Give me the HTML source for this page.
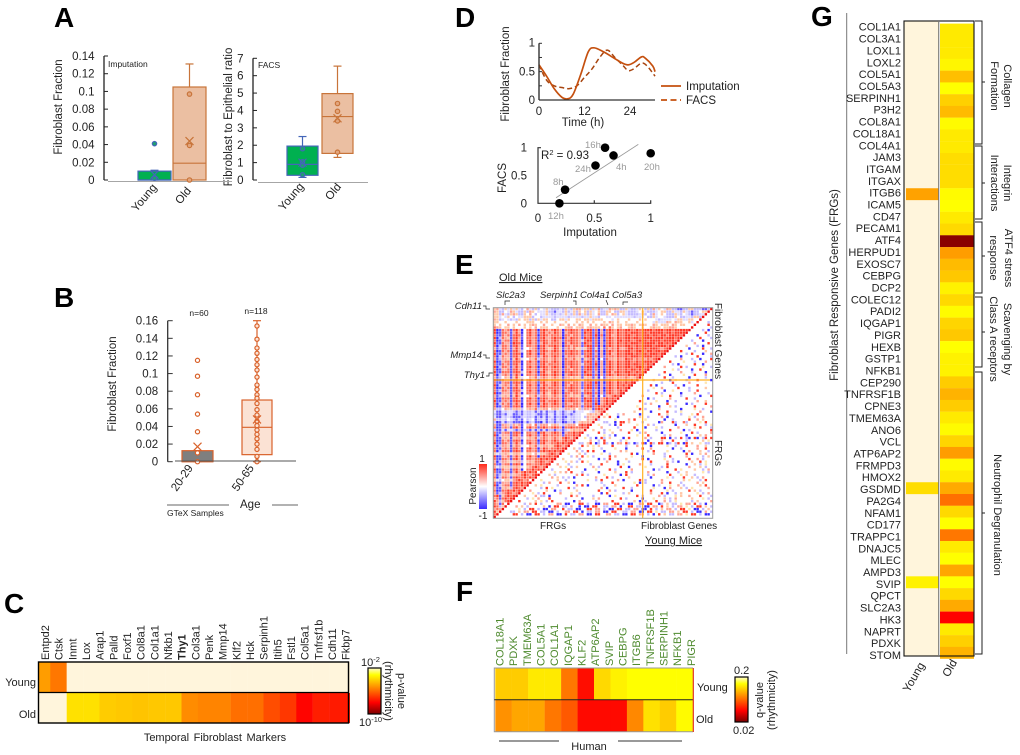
<!DOCTYPE html>
<html lang="en">
<head>
<meta charset="utf-8">
<title>Fibroblast rhythmicity figure</title>
<style>
html,body{margin:0;padding:0;background:#fff;}
svg{display:block;font-family:"Liberation Sans",sans-serif;fill:#222;}
.l{font-weight:bold;font-size:28px;fill:#000;}
.t{font-size:11.5px;}
.s{font-size:11px;}
.x{font-size:10px;}
.i{font-size:9.5px;font-style:italic;}
.g{font-size:9.5px;fill:#999;}
.m{font-size:8.5px;}
.e{text-anchor:end;}
.c{text-anchor:middle;}
</style>
</head>
<body>
<svg id="fig" xmlns="http://www.w3.org/2000/svg" width="1020" height="755" viewBox="0 0 1020 755">
<defs>
<linearGradient id="heatGrad" x1="0" y1="0" x2="0" y2="1">
<stop offset="0" stop-color="#fffbd0"/><stop offset=".15" stop-color="#ffff00"/><stop offset=".75" stop-color="#ff0000"/><stop offset="1" stop-color="#7a0000"/>
</linearGradient>
<linearGradient id="pearsonGrad" x1="0" y1="0" x2="0" y2="1">
<stop offset="0" stop-color="#ff2a1a"/><stop offset=".5" stop-color="#ffffff"/><stop offset="1" stop-color="#3a2bff"/>
</linearGradient>
<clipPath id="clipC"><rect x="38.5" y="661" width="311.5" height="62"/></clipPath>
<clipPath id="clipF"><rect x="495" y="668" width="198.5" height="64"/></clipPath>
</defs>

<text class="l" x="54" y="27">A</text>
<text class="l" x="54" y="307">B</text>
<text class="l" x="4" y="613">C</text>
<text class="l" x="455" y="27">D</text>
<text class="l" x="455" y="274">E</text>
<text class="l" x="456" y="601">F</text>
<text class="l" x="811" y="26">G</text>

<g id="panelA">
<text class="t c" transform="translate(62,107) rotate(-90)">Fibroblast Fraction</text>
<text class="m" x="108" y="67">Imputation</text>
<text class="t c" transform="translate(147,200) rotate(-50)">Young</text>
<text class="t c" transform="translate(186,198) rotate(-50)">Old</text>
<text class="t c" transform="translate(232,117) rotate(-90)">Fibroblast to Epithelial ratio</text>
<text class="m" x="258" y="68">FACS</text>
<text class="t c" transform="translate(294,199) rotate(-50)">Young</text>
<text class="t c" transform="translate(336,194) rotate(-50)">Old</text>
</g>

<g id="panelB">
<text class="t c" transform="translate(116,384) rotate(-90)">Fibroblast Fraction</text>
<text class="m c" x="199" y="316">n=60</text>
<text class="m c" x="256" y="314">n=118</text>
<text class="t c" transform="translate(185,480) rotate(-55)">20-29</text>
<text class="t c" transform="translate(246,480) rotate(-55)">50-65</text>
<line x1="167" y1="505" x2="229" y2="505" stroke="#666"/>
<line x1="272" y1="505" x2="298" y2="505" stroke="#666"/>
<text class="t" x="240" y="508">Age</text>
<text class="m" x="167" y="516">GTeX Samples</text>
</g>

<g id="panelC">
<text class="s e" x="36" y="686">Young</text>
<text class="s e" x="36" y="718">Old</text>
<text class="s c" x="215" y="741" word-spacing="1.5">Temporal Fibroblast Markers</text>
<rect x="368" y="668" width="13" height="46" fill="url(#heatGrad)" stroke="#000" stroke-width="1.2"/>
<text class="s" x="361" y="666">10<tspan font-size="7.5" dy="-4">-2</tspan></text>
<text class="s" x="359" y="726">10<tspan font-size="7.5" dy="-4">-10</tspan></text>
<text class="s c" transform="translate(398,691) rotate(90)">p-value</text>
<text class="s c" transform="translate(385,691) rotate(90)">(rhythmicity)</text>
</g>

<g id="panelD">
<text class="t c" transform="translate(509,74) rotate(-90)">Fibroblast Fraction</text>
<text class="t c" x="583" y="126">Time (h)</text>
<line x1="661" y1="86" x2="681" y2="86" stroke="#c5500f" stroke-width="1.8"/>
<line x1="661" y1="100" x2="681" y2="100" stroke="#c5500f" stroke-width="1.8" stroke-dasharray="6 3.5"/>
<text class="t" x="686" y="90">Imputation</text>
<text class="t" x="686" y="104">FACS</text>
<text class="t c" transform="translate(506,178) rotate(-90)">FACS</text>
<text class="t c" x="590" y="236">Imputation</text>
<text class="t" x="541" y="159">R<tspan font-size="7.5" dy="-4">2</tspan><tspan dy="4"> = 0.93</tspan></text>
<text class="g" x="585" y="148">16h</text>
<text class="g" x="616" y="170">4h</text>
<text class="g" x="644" y="170">20h</text>
<text class="g" x="575" y="172">24h</text>
<text class="g" x="553" y="185">8h</text>
<text class="g" x="548" y="219">12h</text>
</g>

<g id="panelE">
<text class="s" x="499" y="281" text-decoration="underline">Old Mice</text>
<text class="s" x="645" y="544" text-decoration="underline">Young Mice</text>
<text class="i" x="496" y="298">Slc2a3</text>
<text class="i" x="540" y="298">Serpinh1</text>
<text class="i" x="580" y="298">Col4a1</text>
<text class="i" x="612" y="298">Col5a3</text>
<text class="i e" x="482" y="309">Cdh11</text>
<text class="i e" x="482" y="358">Mmp14</text>
<text class="i e" x="485" y="378">Thy1</text>
<path d="M505 305v-4h5M573 301h3v4M606 300l2 5M623 305v-3h5M483 306h3v3h4M483 355h3v3h4M486 376h3v-3h4" fill="none" stroke="#222" stroke-width=".7"/>
<text class="x" x="540" y="529">FRGs</text>
<text class="x" x="641" y="529">Fibroblast Genes</text>
<text class="x c" transform="translate(715,341) rotate(90)">Fibroblast Genes</text>
<text class="x c" transform="translate(715,453) rotate(90)">FRGs</text>
<rect x="479" y="464" width="8" height="45" fill="url(#pearsonGrad)"/>
<text class="x c" x="482" y="462">1</text>
<text class="x c" x="483" y="519">-1</text>
<text class="x c" transform="translate(476,486) rotate(-90)">Pearson</text>
</g>

<g id="panelF">
<text class="s" x="697" y="691">Young</text>
<text class="s" x="696" y="723">Old</text>
<text class="s c" x="589" y="750">Human</text>
<line x1="499" y1="741" x2="559" y2="741" stroke="#333"/>
<line x1="618" y1="741" x2="682" y2="741" stroke="#333"/>
<rect x="735" y="677" width="13" height="45" fill="url(#heatGrad)" stroke="#000" stroke-width="1.2"/>
<text class="s" x="734" y="674">0.2</text>
<text class="s" x="733" y="734">0.02</text>
<text class="s c" transform="translate(763,700) rotate(-90)">q-value</text>
<text class="s c" transform="translate(775,700) rotate(-90)">(rhythmicity)</text>
</g>

<g id="panelG">
<line x1="846.7" y1="13" x2="846.7" y2="654" stroke="#777" stroke-width="1"/>
<text class="t c" transform="translate(838,285) rotate(-90)">Fibroblast Responsive Genes (FRGs)</text>
<text class="t c" transform="translate(917,679) rotate(-60)">Young</text>
<text class="t c" transform="translate(953,670) rotate(-60)">Old</text>
<path d="M975 21h7v123h-7M982 82h3M975 146h7v73h-7M982 183h3M975 222h7v71h-7M982 256h3M975 297h7v70h-7M982 332h3M975 372h7v282h-7M982 513h3" fill="none" stroke="#222" stroke-width="1"/>
<text class="s c" transform="translate(1004,86) rotate(90)">Collagen</text>
<text class="s c" transform="translate(991,86) rotate(90)">Formation</text>
<text class="s c" transform="translate(1004,183) rotate(90)">Integrin</text>
<text class="s c" transform="translate(991,183) rotate(90)">Interactions</text>
<text class="s c" transform="translate(1005,258) rotate(90)">ATF4 stress</text>
<text class="s c" transform="translate(990,258) rotate(90)">response</text>
<text class="s c" transform="translate(1004,339) rotate(90)">Scavenging by</text>
<text class="s c" transform="translate(990,339) rotate(90)">Class A receptors</text>
<text class="s c" transform="translate(994,515) rotate(90)">Neutrophil Degranulation</text>
</g>
</svg>

<script>
/* ---------- panel A ---------- */
const aFractionTicks = ['0','0.02','0.04','0.06','0.08','0.1','0.12','0.14'];
const aFractionTickValues = [0,0.02,0.04,0.06,0.08,0.1,0.12,0.14];
const aFacsTicks = ['0','1','2','3','4','5','6','7'];
const aFacsTickValues = [0,1,2,3,4,5,6,7];
const aImputationYoung = {lo:0, q1:0, med:0, q3:0.01, hi:0.011, mean:0.006, pts:[0.041,0.002]};
const aImputationOld = {lo:0, q1:0, med:0.019, q3:0.105, hi:0.131, mean:0.044, pts:[0.097,0.039,0]};
const aFacsYoung = {lo:0.15, q1:0.27, med:0.9, q3:1.95, hi:2.5, mean:1.0, pts:[1.8,0.85,0.3,1.05]};
const aFacsOld = {lo:1.3, q1:1.53, med:3.65, q3:4.97, hi:6.55, mean:3.55, pts:[4.4,3.95,3.4,1.6]};
/* ---------- panel B ---------- */
const bTicks = ['0','0.02','0.04','0.06','0.08','0.1','0.12','0.14','0.16'];
const bTickValues = [0,0.02,0.04,0.06,0.08,0.1,0.12,0.14,0.16];
const bYoung = {lo:0, q1:0, med:0, q3:0.0125, hi:0.0125, mean:0.017, pts:[0.115,0.097,0.076,0.054,0.034,0.01,0]};
const bOld = {lo:0, q1:0.008, med:0.039, q3:0.07, hi:0.16, mean:0.048, pts:[0.154,0.139,0.129,0.123,0.116,0.11,0.104,0.096,0.087,0.082,0.076,0.072,0.066,0.059,0.053,0.046,0.041,0.036,0.031,0.026,0.02,0.014,0.006,0]};
/* ---------- panel C ---------- */
const cGenes = ['Entpd2','Ctsk','Inmt','Lox','Arap1','Palld','Foxf1','Col8a1','Col1a1','Nfkb1','Thy1','Col3a1','Penk','Mmp14','Klf2','Hck','Serpinh1','Itih5','Fstl1','Col5a1','Tnfrsf1b','Cdh11','Fkbp7'];
const cYoung = [.38,.47,null,null,null,null,null,null,null,null,null,null,null,null,null,null,null,null,null,null];
const cOld = [null,null,.22,.22,.27,.28,.29,.28,.28,.42,.44,.44,.49,.49,.57,.62,.74,.68,.69,.69];
/* ---------- panel D ---------- */
const dTimes = [0,2,4,6,7.5,9,11,13,14.5,17,20,22,23.5,25,27,28,30,30.6];
const dImputation = [.62,.42,.2,.05,.02,.1,.45,.85,.92,.85,.73,.65,.62,.66,.76,.74,.6,.5];
const dFacsTimes = [0,2,4,6,8,10,12,14,16,18,20,22,23.5,25,27,28.5,30.6];
const dFacs = [.62,.35,.25,.22,.2,.25,.4,.55,.75,.88,.75,.62,.52,.55,.65,.6,.42];
const dScatterX = [.595,.67,1,.51,.24,.19];
const dScatterY = [1,.86,.9,.68,.245,0];
const dTrendX = [.16,.89];
const dTrendY = [.1,1.06];
/* ---------- panel E: levels 0 (r=-1) to 8 (r=+1), 9 = weak yellow, strings by row ---------- */
const eOldRows = [
"5632535353246325243532223253256635525362336565225322354252635436522112255222112",
"6522436532252654333522133252352545253452255422553222345322234552253325321224553",
"5526325652254642433532232353252635253462254652453222235242634542225324321223325",
"5534354243355524423333233332333323353324433433333332333422534432225422332552",
"6523432325455252535542245535445545535555444345444544454544432333343553355",
"5544544454445554454544544454445454545444546545445444544444353336546554453",
"5454464546454565446445446546454654464546554645545565456544654555465455",
"7654554544454546455544454456645564565554747545644565445445655455665",
"8017671786047867078767876077877617881706078768778877878888788878878888888",
"8017761686047867178676876067877618781706178768778788878878888878878888",
"7117671787147867078767776077677617781807078668778877878887887887888878",
"8027651786147767178667877076877618781706178768778878878888788878887878",
"7016771786047867078767876177877627881706078768878877888878888788887",
"8117661887047867168767776076877618771706178768778788878888878878788",
"7027761786147767078677876077677617881706078768778877878888788887878",
"6127761686144667078656875167675525781505176768667887878878887678787",
"7017671786247867178767876077877617881706078768778877888788788787",
"8116761787047867078667776177877617781606078668778887878878887878",
"7027661786047767168767876067776627881706177768778788878888787888",
"6126651586344657267656765176675515671504176657668776767676787678",
"8016771787047867078767876077877617881706078768778877878888787",
"7117671786047767178677776077877627781806078768778878878787888",
"8027761686147867078767876076877617881706178768778877888787878",
"7016671786047767168767776177677617881706078768778788787878",
"8117771787247867078657876077877618771606078678778877878787",
"7026761686047767178767876067877617881706178768777878787878",
"6124651585344657267656765166565515661504166656667656787678",
"8017661786047867078767776077877627881706078768778787878",
"7116771787047767178667876077677617781806078768778787878",
"8026761686147867068767876076877617881706178768787878",
"7017671786047767178677776177877617881706078768778787",
"7127761787247867078767876067877627771606078767878",
"8016661686047767168657876077677617881706178767878",
"6125651586344657267656765176565515671504166787678",
"7017771786047867078767776077877618781706787878",
"8116761787147767178677876077877617881706787878",
"7027671686047867068767876176677627771806787878",
"7016771787047767178767776077877617881787878",
"6224652565245657256645653266564526651787678",
"3113233212132231213122132123213334432567656",
"2112133112132232112133132122123344565656",
"3113232111232231213123122113223342656565",
"6223243212142341223132132123223344656565",
"2013122111031231103122122012213565656",
"6116652656145647266645653256664787878",
"7016761786047867178767876077877787878",
"2113133212132131213122122123565656",
"7116771787047767078667876067787878",
"8026661786147867168767776177787878",
"6115651566245657267656765787678",
"7017671787047767078767876787878",
"8117761686147867178667787878",
"6026651576344657256655787678",
"7116761786047867068767787878",
"7027771787147767178787878",
"5325653565345546355678767",
"8016671686047867078787878",
"7117761786147767787878",
"6026652566245657787678",
"7116771787047767787878",
"6325552565345678767",
"8017661786047787878",
"7116771686787878",
"6125652566787678",
"7027761787787878",
"5324553678767",
"7116661787878",
"8026771787878",
"6115652787678",
"7017787878",
"6126787678",
"7815787878",
"6717878",
"8625787",
"7617",
"8725",
"676",
"857",
"78",
""
];
/* right-aligned to the last column; '.' is a blank (non-significant) cell */
const eYoungRows = [
"","","","","","2.","8.","..2","2.0.","..8..",
"0...2.","..8...2","2...0...","..6....8.","5...2.0...","..0....8..2","8....2...5..","...2.8...0..6","2.0.....8....2","...6...2..0...8",
"8....9...2...6..","..2.0.....8..0...","6.....8.2.....9..2","...9.2....0..8....",".8.....6...2....0..","2...0....9...8...6..","...8..2.....0.....2..","5.....0.9...2...8....0","...2...8.....6.....9..","8.0......2..0....8.....",
"..9..6.....8...2.....5..","2.....0..9.....2..8.....","....8.2......0....6....2.","6......9..8...2......0...8","..0.2.....6.....8..2......","8.....9...0..2.......6..5..","...2.6.....8......0.2....8..","9.......0...5.2......8.....6","..8.2....6.......0....9..2...","5.....0.....8..2.9......6...0",
"...9...2.6.....0......8..5....2...9.8.....",
"..5.8..0.......5..2....6.0.......9.2..6...",
"2.....9....6.8...9......0..2.....8..6.5...",
"..22..0.88.5....2.....06...82..72....9.8..",
"9...2.0.8.....9...6.2.......0...5..8...2.9",
"..6.....2.....8...0...9.2.....6.....5.8...2",
"5...2.9...6...9.0......2....8....0.2.......8",
"...8.2..5.....8...2.6.....0......9...8.2....6",
"2.....9.2.0.......9...8.....2.6.....0....5.6..",
"9.2.0.82.5....0.8.....6.2...88.0.2.8.20.80.28.8",
"...6..2.8.....2.9.......0....6...8....2.....5.9.",
"22.58.02.82.0.66.82.02.80.82.88.02.28.08.5..9.22.",
"..8.5.9.5....8....2...6....0.....9..2...8...6..5..",
"5.2....9..2....9...0.....8..6.......0..2.....6..8..",
"..6.2.8.8...0.....6.5.......2.8....9.....0.6...5..2.",
"9...5.2.....9..2.......8.0.....6...2.......8.0..5.6..",
"..2.6.8.9.2.....8.6.....9...0.......2.8.....6.....2.5.",
"5.....2......0.2.8.....5.....8.0.....9..2.....8..6.2...",
"..9.5.2.8.9......6...0...2.......8.....6.2.0....5..8.9..",
"6...2.......2...8.....0.9.....6...2.....8......0..5.2.9..",
"..5.9.2.5.....6.2.......8..0.....9.....2.8.......6...5.2..",
"2.....8.....0...9....8.2.....6.......0.2.....8.9....5..2.6.",
"..9.5.6.8...2.....0.....5...8.2.....6......0...2..5.....9.2.",
"5.2.......6.8.2.....9.....0.8.......2.6.....8...9.5..2......",
"...6.5.2.2.0.......6...8.2.....5.......0.....9.2...8..5.2.6...",
"9.....5..2.......9..2.8.....6.0.....8.2.....6.......5.9...2.8..",
"..2.6...8..5.0.........2...8.......9.0.2.....6..8...2.....6.5...",
"5.9.....2......6.8.0.....2...5.......8.....0.2...9..6.2.....5.8..",
"...2.8.9.....8.2.........6.0.....8..2.......9...0.6...5.2.9.....6.",
"6.....5..0.2.....5.......8...6.2.....0......8.....9.2.....8.5.2....",
"..9.2.8.....6...9..2.......0.8.....2.5.......6...8.0..2.5.....9.2.6.",
"5...6.22.0.......8.6.....2.....0.9.......8.2.....6.2...9.5..6...8...2",
"..2.9.6...8.....2.....0...5.6.......8.2.....0...9...5.2.6.....5...9.2.",
"8.....5.9.2.8.......0.6.....2.....8.......5.0.2...8..6.2.9.....2.5....6",
"..2.6.8.2.....66.00...88.2..00.66..88.2.00..66.88..02.5.22.9.66.8.2.0..",
"6.5.2.....5.0.88.22.6..0.00.88..22.66.0..88.22.00.66.8.5.2.66.9.2.88.5.2",
"..9.2.88.2.00.66..8.22.00..88.66.2.00.88.22.66.00.8.2.5.66.2.88.9.00.2.5.",
"22.5.66.88.22.00.2..66.88.0.22.66.00.88..22.66.00.88.9.22.66.5.88.2.00.6.2",
"..88.2.00.88.2.66.00.8.22.66.00.88..66.22.00.88.66.2.0.8.5.22.66.9.88.2.00."
];
/* ---------- panel F ---------- */
const fGenes = ['COL18A1','PDXK','TMEM63A','COL5A1','COL1A1','IQGAP1','KLF2','ATP6AP2','SVIP','CEBPG','ITGB6','TNFRSF1B','SERPINH1','NFKB1','PIGR'];
const fYoung = [.27,.27,.2,.2,.47,.72,.24,.18,.15,.15,.15,.15];
const fOld = [.41,.36,.36,.47,.54,.73,.73,.73,.43,.22,.27,.16];
/* ---------- panel G ---------- */
const gGenes = ['COL1A1','COL3A1','LOXL1','LOXL2','COL5A1','COL5A3','SERPINH1','P3H2','COL8A1','COL18A1','COL4A1','JAM3','ITGAM','ITGAX','ITGB6','ICAM5','CD47','PECAM1','ATF4','HERPUD1','EXOSC7','CEBPG','DCP2','COLEC12','PADI2','IQGAP1','PIGR','HEXB','GSTP1','NFKB1','CEP290','TNFRSF1B','CPNE3','TMEM63A','ANO6','VCL','ATP6AP2','FRMPD3','HMOX2','GSDMD','PA2G4','NFAM1','CD177','TRAPPC1','DNAJC5','MLEC','AMPD3','SVIP','QPCT','SLC2A3','HK3','NAPRT','PDXK','STOM'];
const gOld = [.2,.2,.2,.17,.3,.15,.26,.31,.16,.2,.2,.23,.23,.23,.16,.15,.2,.24,.97,.38,.31,.28,.18,.24,.16,.25,.28,.15,.18,.18,.27,.33,.27,.2,.16,.25,.38,.16,.2,.35,.49,.24,.15,.47,.2,.15,.36,.15,.24,.35,.75,.2,.26,.33];
const gYoung = {ITGB6:.37, GSDMD:.23, SVIP:.18};

/* ---------- helpers ---------- */
const NS = 'http://www.w3.org/2000/svg';
function add(parentId, tag, attrs, name, text) {
  const el = document.createElementNS(NS, tag);
  for (const k in attrs) el.setAttribute(k, attrs[k]);
  
  
  if (text !== undefined) el.textContent = text;
  (typeof parentId === 'string' ? document.getElementById(parentId) : parentId).appendChild(el);
  return el;
}
function heatColor(t) {
  if (t === null || t === undefined) return '#fff5dc';
  if (t <= .15) { const b = Math.round(208 * (1 - t / .15)); return 'rgb(255,255,' + b + ')'; }
  if (t <= .75) { const g = Math.round(255 * (.75 - t) / .6); return 'rgb(255,' + g + ',0)'; }
  const r = Math.round(255 - 133 * (t - .75) / .25); return 'rgb(' + r + ',0,0)';
}
function linScale(d0, d1, r0, r1) { return v => r0 + (v - d0) * (r1 - r0) / (d1 - d0); }
function yAxis(group, x, scale, vals, labels, prefix, tickLen, color) {
  add(group, 'line', {x1:x, x2:x, y1:scale(vals[vals.length-1]), y2:scale(vals[0]), stroke:color, 'stroke-width':1.3}, prefix + '-y-axis');
  vals.forEach((v, i) => {
    add(group, 'line', {x1:x, x2:x + tickLen, y1:scale(v), y2:scale(v), stroke:color, 'stroke-width':1}, prefix + '-y-tick');
    add(group, 'text', {x:x - 9.5, y:scale(v) + 4, class:'t e'}, prefix + '-y-tick-label', labels[i]);
  });
}
function box(group, y, x0, w, s, o) {
  const cx = x0 + w / 2, p = o.prefix;
  add(group, 'line', {x1:cx, x2:cx, y1:y(s.hi), y2:y(s.lo), stroke:o.stroke, 'stroke-width':1.2}, p + '-whisker');
  add(group, 'line', {x1:cx - 4, x2:cx + 4, y1:y(s.hi), y2:y(s.hi), stroke:o.stroke, 'stroke-width':1.2}, p + '-whisker-cap');
  add(group, 'line', {x1:cx - 4, x2:cx + 4, y1:y(s.lo), y2:y(s.lo), stroke:o.stroke, 'stroke-width':1.2}, p + '-whisker-cap');
  add(group, 'rect', {x:x0, y:y(s.q3), width:w, height:Math.max(y(s.q1) - y(s.q3), .5), fill:o.fill, stroke:o.stroke, 'stroke-width':1.2}, p + '-box');
  add(group, 'line', {x1:x0, x2:x0 + w, y1:y(s.med), y2:y(s.med), stroke:o.stroke, 'stroke-width':1.2}, p + '-median');
  s.pts.forEach(v => add(group, 'circle', {cx:cx, cy:y(v), r:o.r, fill:o.ptFill, stroke:o.stroke, 'stroke-width':1.2}, p + '-point'));
  const m = y(s.mean);
  add(group, 'path', {d:'M' + (cx-4) + ' ' + (m-4) + 'L' + (cx+4) + ' ' + (m+4) + 'M' + (cx+4) + ' ' + (m-4) + 'L' + (cx-4) + ' ' + (m+4), stroke:o.stroke, 'stroke-width':1.2, fill:'none'}, p + '-mean');
}

/* ---------- draw A ---------- */
const yA1 = linScale(0, .14, 180, 56);
yAxis('panelA', 104, yA1, aFractionTickValues, aFractionTicks, 'a-imputation', 4, '#222');
add('panelA', 'line', {x1:108, x2:232, y1:181.5, y2:181.5, stroke:'#a6a6a6', 'stroke-width':1}, 'a-imputation-baseline');
box('panelA', yA1, 138, 33, aImputationYoung, {prefix:'a-imputation-young', fill:'#00b050', stroke:'#4466b8', ptFill:'#1ea070', r:2.2});
box('panelA', yA1, 173, 33, aImputationOld, {prefix:'a-imputation-old', fill:'#ebbfa2', stroke:'#c8743a', ptFill:'#e3a57c', r:2.2});
const yA2 = linScale(0, 7, 180, 58.3);
yAxis('panelA', 253, yA2, aFacsTickValues, aFacsTicks, 'a-facs', 4, '#222');
add('panelA', 'line', {x1:258, x2:368, y1:182.5, y2:182.5, stroke:'#a6a6a6', 'stroke-width':1}, 'a-facs-baseline');
box('panelA', yA2, 287, 31, aFacsYoung, {prefix:'a-facs-young', fill:'#00b050', stroke:'#4466b8', ptFill:'#1ea070', r:2.2});
box('panelA', yA2, 322, 31, aFacsOld, {prefix:'a-facs-old', fill:'#ebbfa2', stroke:'#c8743a', ptFill:'#e3a57c', r:2.2});

/* ---------- draw B ---------- */
const yB = linScale(0, .16, 461.7, 320.7);
yAxis('panelB', 167.7, yB, bTickValues, bTicks, 'b', 5, '#333');
box('panelB', yB, 182, 31, bYoung, {prefix:'b-young', fill:'#7f7f7f', stroke:'#d9622b', ptFill:'#fff', r:2.1});
box('panelB', yB, 242, 30, bOld, {prefix:'b-old', fill:'#fbe2d4', stroke:'#d9622b', ptFill:'#fbe2d4', r:2.1});
add('panelB', 'line', {x1:175, x2:296, y1:461, y2:461, stroke:'#555', 'stroke-width':1}, 'b-baseline');

/* ---------- draw C ---------- */
const cClip = add('panelC', 'g', {'clip-path':'url(#clipC)'}, 'c-heatmap');
const xC = i => 33.9 + 16.4 * i;
cYoung.forEach((v, i) => add(cClip, 'rect', {x:xC(i), y:662, width:16.6, height:31, fill:heatColor(v)}, 'c-cell-young'));
cOld.forEach((v, i) => add(cClip, 'rect', {x:xC(i), y:693, width:16.6, height:30, fill:heatColor(v)}, 'c-cell-old'));
add('panelC', 'rect', {x:38.5, y:662, width:310, height:61, fill:'none', stroke:'#000', 'stroke-width':1.4}, 'c-frame');
add('panelC', 'line', {x1:38.5, x2:348.5, y1:692.5, y2:692.5, stroke:'#000', 'stroke-width':1.2}, 'c-row-divider');
cGenes.forEach((g, i) => {
  const x = 49 + i * 13.67;
  const t = add('panelC', 'text', {transform:'translate(' + x + ',660) rotate(-90)', class:'s'}, 'c-gene-label', g);
  if (g === 'Thy1') t.setAttribute('font-weight', 'bold');
});

/* ---------- draw D ---------- */
function smooth(pts) {
  let d = 'M' + pts[0][0] + ' ' + pts[0][1];
  for (let i = 0; i < pts.length - 1; i++) {
    const p0 = pts[Math.max(i-1,0)], p1 = pts[i], p2 = pts[i+1], p3 = pts[Math.min(i+2,pts.length-1)];
    d += 'C' + (p1[0]+(p2[0]-p0[0])/6) + ' ' + (p1[1]+(p2[1]-p0[1])/6) + ' ' + (p2[0]-(p3[0]-p1[0])/6) + ' ' + (p2[1]-(p3[1]-p1[1])/6) + ' ' + p2[0] + ' ' + p2[1];
  }
  return d;
}
const xD = linScale(0, 24, 539, 630), yD = linScale(0, 1, 100, 43.3);
add('panelD', 'path', {d:smooth(dFacsTimes.map((t,i)=>[xD(t),yD(dFacs[i])])), fill:'none', stroke:'#a8450f', 'stroke-width':1.5, 'stroke-dasharray':'5 3'}, 'd-facs-line');
add('panelD', 'path', {d:smooth(dTimes.map((t,i)=>[xD(t),yD(dImputation[i])])), fill:'none', stroke:'#c5500f', 'stroke-width':1.7}, 'd-imputation-line');
add('panelD', 'line', {x1:539, x2:539, y1:yD(1), y2:yD(0), stroke:'#333', 'stroke-width':1.4}, 'd-top-y-axis');
add('panelD', 'line', {x1:539, x2:655, y1:yD(0), y2:yD(0), stroke:'#333', 'stroke-width':1.2}, 'd-top-x-axis');
[0,.25,.5,.75,1].forEach(v => add('panelD', 'line', {x1:539, x2:542, y1:yD(v), y2:yD(v), stroke:'#333'}, 'd-top-y-tick'));
[[1,'1'],[.5,'0.5'],[0,'0']].forEach(a => add('panelD', 'text', {x:535, y:yD(a[0]) + (a[0]===1?3:4), class:'t e'}, 'd-top-y-label', a[1]));
[0,12,24].forEach(v => add('panelD', 'text', {x:xD(v), y:115, class:'t c'}, 'd-top-x-label', String(v)));
const xS = linScale(0, 1, 538, 650.7), yS = linScale(0, 1, 203.3, 147.7);
add('panelD', 'line', {x1:xS(dTrendX[0]), x2:xS(dTrendX[1]), y1:yS(dTrendY[0]), y2:yS(dTrendY[1]), stroke:'#999', 'stroke-width':.9}, 'd-trend-line');
add('panelD', 'path', {d:'M541 147.7H538V203.3H650.7v-3M594.3 203.3v-3', fill:'none', stroke:'#333', 'stroke-width':1.2}, 'd-scatter-axes');
dScatterX.forEach((v, i) => add('panelD', 'circle', {cx:xS(v), cy:yS(dScatterY[i]), r:4.3, fill:'#000'}, 'd-scatter-point'));
[[1,'1'],[.5,'0.5'],[0,'0']].forEach(a => add('panelD', 'text', {x:527, y:yS(a[0]) + 4, class:'t e'}, 'd-scatter-y-label', a[1]));
[[0,'0'],[.5,'0.5'],[1,'1']].forEach(a => add('panelD', 'text', {x:xS(a[0]), y:222, class:'t c'}, 'd-scatter-x-label', a[1]));

/* ---------- draw E ---------- */
const eColors = ['#3a2bff','#6a5cff','#c4bbff','#e0dcff','#ffffff','#ffc8a8','#ffa495','#ff705c','#ff3a28','#ffe6b0'];
const eX = c => 493.3 + c * 2.743, eY = r => 307.7 + r * 2.632;
const eGroup = add('panelE', 'g', {}, 'e-correlation-matrix');
const eCell = (c, r, fill, name) => add(eGroup, 'rect', {x:eX(c) + .15, y:eY(r) + .15, width:2.4, height:2.35, fill:fill}, name);
eOldRows.forEach((row, r) => {
  const n = 79 - r;
  for (let c = 0; c < Math.min(n, row.length); c++) { const v = row[c]; if (v !== '.' && v !== '4') eCell(c, r, eColors[+v], 'e-cell-old'); }
});
eYoungRows.forEach((row, r) => {
  const s = r > 0 ? row.slice(-r) : '';
  for (let k = 0; k < s.length; k++) {
    const v = s[k], c = 80 - s.length + k;
    if (v !== '.' && v !== '4') eCell(c, r, eColors[+v], 'e-cell-young');
  }
});
for (let i = 0; i < 80; i++) eCell(79 - i, i, '#f01010', 'e-cell-diagonal');
add('panelE', 'line', {x1:642.7, x2:642.7, y1:307.7, y2:518, stroke:'#ffb020', 'stroke-width':1.2}, 'e-vertical-divider');
add('panelE', 'line', {x1:493.3, x2:710, y1:380, y2:380, stroke:'#ffb020', 'stroke-width':1.2}, 'e-horizontal-divider');
add('panelE', 'rect', {x:493.3, y:307.7, width:219.4, height:210.6, fill:'none', stroke:'#999', 'stroke-width':1}, 'e-frame');

/* ---------- draw F ---------- */
const fClip = add('panelF', 'g', {'clip-path':'url(#clipF)'}, 'f-heatmap');
const xF = i => 495.3 + 16.45 * i;
fYoung.forEach((v, i) => add(fClip, 'rect', {x:xF(i), y:668.5, width:16.65, height:31.5, fill:heatColor(v)}, 'f-cell-young'));
fOld.forEach((v, i) => add(fClip, 'rect', {x:xF(i), y:700, width:16.65, height:32, fill:heatColor(v)}, 'f-cell-old'));
add('panelF', 'path', {d:'M693 668H494.3V731.7H693', fill:'none', stroke:'#999', 'stroke-width':1}, 'f-frame');
add('panelF', 'line', {x1:494.3, x2:693, y1:699.7, y2:699.7, stroke:'#222', 'stroke-width':1}, 'f-row-divider');
add('panelF', 'line', {x1:693.3, x2:693.3, y1:668, y2:732, stroke:'#e03020', 'stroke-width':1.2}, 'f-right-edge');
fGenes.forEach((g, i) => {
  add('panelF', 'text', {transform:'translate(' + (503.5 + i * 13.67) + ',666) rotate(-90)', class:'s', style:'fill:#4e8a2e'}, 'f-gene-label', g);
});

/* ---------- draw G ---------- */
add('panelG', 'rect', {x:904, y:21, width:35, height:635, fill:'#fff5dc'}, 'g-young-background');
const gCellY = i => 23.6 + i * 11.76;
gGenes.forEach((g, i) => {
  add('panelG', 'rect', {x:940, y:gCellY(i), width:34, height:11.9, fill:heatColor(gOld[i])}, 'g-cell-old');
  if (gYoung[g] !== undefined) add('panelG', 'rect', {x:906, y:gCellY(i), width:33, height:11.9, fill:heatColor(gYoung[g])}, 'g-cell-young');
  add('panelG', 'text', {x:901, y:26.7 + i * 11.855 + 4, class:'s e'}, 'g-gene-label', g);
});
add('panelG', 'rect', {x:904, y:21, width:70, height:635, fill:'none', stroke:'#111', 'stroke-width':1.1}, 'g-frame');
add('panelG', 'line', {x1:938.7, x2:938.7, y1:21, y2:656, stroke:'#777', 'stroke-width':1.1}, 'g-column-divider');
</script>
</body>
</html>
